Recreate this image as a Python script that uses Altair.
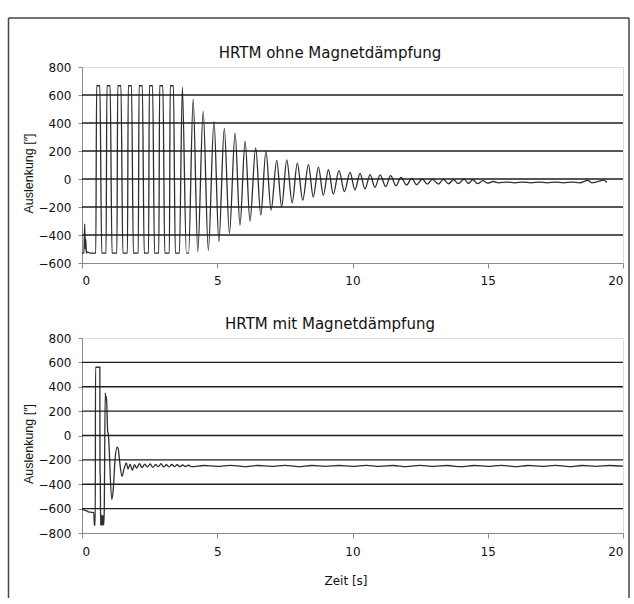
import altair as alt
import pandas as pd

FONT = "DejaVu Sans"
FONT_Y = "Liberation Sans"

# ---------------- data ----------------
# top panel: "HRTM ohne Magnetdämpfung" (time [s], deflection)
t_top = [0.00, 0.07, 0.10, 0.12, 0.14, 0.16, 0.19, 0.30,
         0.51, 0.54, 0.66, 0.73,
         0.89, 0.92, 1.04, 1.11,
         1.29, 1.32, 1.44, 1.51,
         1.68, 1.71, 1.83, 1.90,
         2.08, 2.11, 2.23, 2.30,
         2.46, 2.49, 2.61, 2.68,
         2.84, 2.87, 2.99, 3.06,
         3.23, 3.26, 3.38, 3.45,
         3.60, 3.71, 3.86, 3.94,
         4.11, 4.28, 4.48, 4.67, 4.88, 5.06, 5.26, 5.45, 5.66, 5.84,
         6.03, 6.21, 6.42, 6.61, 6.80, 6.99, 7.20, 7.38, 7.57, 7.77,
         7.96, 8.16, 8.37, 8.55, 8.74, 8.92, 9.11, 9.29, 9.50, 9.70,
         9.91, 10.09, 10.28, 10.46, 10.65, 10.83, 11.02, 11.23, 11.41, 11.61,
         11.79, 12.00, 12.19, 12.37, 12.58, 12.77, 12.95, 13.18, 13.36, 13.55,
         13.73, 13.91, 14.13, 14.28, 14.45, 14.62, 14.82, 15.00, 15.20, 15.40,
         15.70, 16.00, 16.30, 16.60, 16.90, 17.20, 17.50, 17.80, 18.10, 18.40,
         18.70, 18.85, 19.00, 19.30, 19.40]
v_top = [-530, -530, -320, -500, -430, -530, -520, -530,
         -530, 666, 666, -530,
         -530, 666, 666, -530,
         -530, 666, 666, -530,
         -530, 666, 666, -530,
         -530, 666, 666, -530,
         -530, 666, 666, -530,
         -530, 666, 666, -530,
         -530, 666, 666, -530,
         -530, 655, -530, -530,
         571, -518, 483, -507, 412, -447, 362, -388, 327, -329,
         270, -301, 222, -258, 199, -222, 133, -199, 137, -170,
         114, -151, 102, -128, 85, -116, 66, -107, 60, -90,
         48, -79, 40, -71, 31, -60, 29, -55, 24, -48,
         12, -43, 5, -40, 0, -36, -2, -36, -3, -34,
         -5, -33, 0, -32, -4, -33, -12, -30, -18, -27,
         -22, -27, -22, -27, -22, -27, -22, -27, -22, -27,
         -10, -27, -22, -8, -25]

# bottom panel: "HRTM mit Magnetdämpfung"
t_bot = [0.00, 0.10, 0.20, 0.26, 0.35, 0.44, 0.455, 0.49, 0.50, 0.66,
         0.665, 0.675, 0.69, 0.70, 0.72, 0.74, 0.76, 0.78, 0.80, 0.82,
         0.86, 0.88, 0.90, 0.92, 0.95, 0.97, 1.10, 1.16, 1.22, 1.30,
         1.34, 1.40, 1.48, 1.56, 1.64, 1.70, 1.78, 1.86, 1.94, 2.02,
         2.12, 2.22, 2.32, 2.42, 2.52, 2.62, 2.72, 2.82, 2.92, 3.02,
         3.12, 3.22, 3.32, 3.42, 3.52, 3.62, 3.72, 3.82, 3.94, 4.06,
         4.50, 5.00, 5.50, 6.00, 6.50, 7.00, 7.50, 8.00, 8.50, 9.00,
         9.50, 10.00, 10.50, 11.00, 11.50, 12.00, 12.50, 13.00, 13.50, 14.00,
         14.50, 15.00, 15.50, 16.00, 16.50, 17.00, 17.50, 18.00, 18.50, 19.00,
         19.50, 20.00]
v_bot = [-608, -612, -622, -628, -630, -632, -735, -735, 560, 560,
         -300, -330, -735, -650, -735, -655, -735, -660, -735, -640,
         350, 290, 320, 240, 30, 15, -525, -430, -200, -95,
         -110, -230, -335, -270, -225, -275, -235, -285, -240, -268,
         -232, -262, -236, -258, -234, -262, -238, -256, -232, -258,
         -240, -258, -238, -255, -240, -256, -242, -254, -244, -256,
         -246, -254, -245, -255, -246, -254, -245, -255, -246, -253,
         -246, -254, -245, -254, -246, -255, -245, -254, -246, -255,
         -246, -254, -245, -255, -246, -254, -245, -255, -246, -254,
         -246, -252]

assert len(t_top) == len(v_top)
assert len(t_bot) == len(v_bot)

x_ticks = [0, 5, 10, 15, 20]
y_ticks_top = [-600, -400, -200, 0, 200, 400, 600, 800]
y_ticks_bot = [-800, -600, -400, -200, 0, 200, 400, 600, 800]
grid_top = [-400, -200, 0, 200, 400, 600]
grid_bot = [-600, -400, -200, 0, 200, 400, 600]

title_top = "HRTM ohne Magnetdämpfung"
title_bot = "HRTM mit Magnetdämpfung"
y_title = "Auslenkung [\u2033]"
x_title = "Zeit [s]"

W = 541
H_TOP = 196
H_BOT = 195
AX = "#8a8a8a"
TXT = "#111111"


def panel(t, v, ydom, yticks, gridvals, title, height, xtitle=None, frame=False):
    df = pd.DataFrame({"t": t, "v": v})
    xaxis_kw = dict(values=x_ticks, grid=False, domainColor=AX, tickColor=AX,
                    tickSize=5, labelFont=FONT, labelFontSize=12, labelColor=TXT,
                    labelPadding=7)
    if xtitle:
        xaxis_kw.update(title=xtitle, titleFont=FONT, titleFontSize=12,
                        titleFontWeight="normal", titleColor=TXT, titlePadding=18,
                        titleX=263.5, labelPadding=8)
    else:
        xaxis_kw.update(title="")
    x = alt.X("t:Q", scale=alt.Scale(domain=[0, 20], nice=False, zero=False),
              axis=alt.Axis(**xaxis_kw))
    y = alt.Y("v:Q", scale=alt.Scale(domain=ydom, nice=False, zero=False),
              axis=alt.Axis(values=yticks, grid=False, domainColor=AX,
                            tickColor=AX, tickSize=4, labelFont=FONT,
                            labelFontSize=12, labelColor=TXT, labelPadding=7,
                            title=y_title, titleFont=FONT_Y, titleFontSize=12.5,
                            titleFontWeight="normal", titleColor=TXT,
                            titleX=-47, titleY=height / 2 + 8))
    line = alt.Chart(df).mark_line(interpolate="monotone", color="#2e2e2e",
                                   strokeWidth=1.3).encode(x=x, y=y)
    gdf = pd.DataFrame({"v": gridvals})
    grid = alt.Chart(gdf).mark_rule(color="#1e1e1e", strokeWidth=1.3).encode(y=y)
    fdf = pd.DataFrame({"a": [0]})
    ttl = alt.Chart(fdf).mark_text(font=FONT, fontSize=15, color=TXT, align="center",
                                   baseline="middle").encode(
        x=alt.value(248), y=alt.value(-14.5), text=alt.value(title))
    layers = [line, grid, ttl]
    if frame:
        left = alt.Chart(fdf).mark_rule(color="#444", strokeWidth=1.5).encode(
            x=alt.value(-73.5), y=alt.value(-49), y2=alt.value(531))
        right = alt.Chart(fdf).mark_rule(color="#444", strokeWidth=1.5).encode(
            x=alt.value(547), y=alt.value(-49), y2=alt.value(531))
        topl = alt.Chart(fdf).mark_rule(color="#444", strokeWidth=1.5).encode(
            x=alt.value(-73.5), x2=alt.value(547), y=alt.value(-49))
        layers += [left, right, topl]
    return alt.layer(*layers).properties(width=W, height=height)


top = panel(t_top, v_top, [-600, 800], y_ticks_top, grid_top, title_top, H_TOP, frame=True)
bot = panel(t_bot, v_bot, [-800, 800], y_ticks_bot, grid_bot, title_bot, H_BOT, xtitle=x_title)

chart = alt.vconcat(top, bot, spacing=75, bounds="flush").properties(
    padding={"left": 7, "top": 16, "right": 0, "bottom": 0}
).configure_view(stroke="#9a9a9a", strokeWidth=1).configure(background="white")

chart.save("out.html", embed_options={"renderer": "svg", "actions": False})
